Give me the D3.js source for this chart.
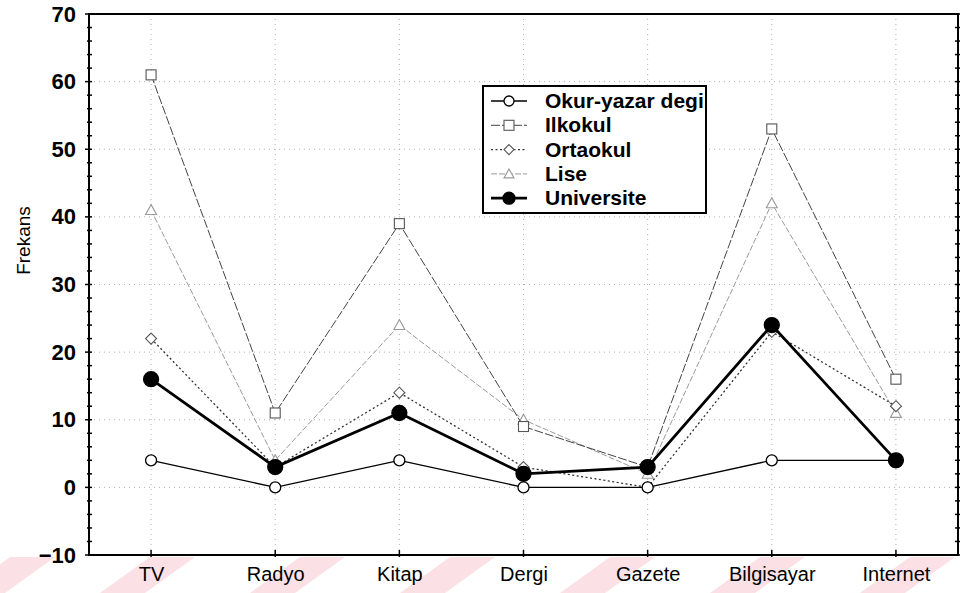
<!DOCTYPE html>
<html><head><meta charset="utf-8">
<script src="https://cdn.jsdelivr.net/npm/d3@7"></script>
<style>html,body{margin:0;padding:0;background:#fff;}svg{display:block;}</style>
</head><body>
<svg id="chart" width="961" height="593"></svg>
<script>
const categories = ["TV","Radyo","Kitap","Dergi","Gazete","Bilgisayar","Internet"];
const seriesNames = ["Okur-yazar degil","Ilkokul","Ortaokul","Lise","Universite"];
const okurYazar  = [4, 0, 4, 0, 0, 4, 4];
const ilkokul    = [61, 11, 39, 9, 3, 53, 16];
const ortaokul   = [22, 3, 14, 3, 0, 23, 12];
const lise       = [41, 4, 24, 10, 2, 42, 11];
const universite = [16, 3, 11, 2, 3, 24, 4];
const yTicks = [-10, 0, 10, 20, 30, 40, 50, 60, 70];
const yLabel = "Frekans";

const svg = d3.select("#chart");
const L = 89, R = 958, T = 14, B = 555;
const x = d3.scalePoint().domain(categories).range([L, R]).padding(0.5);
const y = d3.scaleLinear().domain([-10, 70]).range([B, T]);

// watermark stripes
const wm = svg.append("g").attr("fill", "#fbe1e5");
[-40, 100, 250, 400, 560, 710, 860].forEach(s => {
  wm.append("path").attr("d", `M${s},593 L${s+45},593 L${s+95},557 L${s+50},557 Z`);
});

// grid
const grid = svg.append("g").attr("stroke", "#b0b0b0").attr("stroke-width", 1).attr("stroke-dasharray", "1,4");
yTicks.filter(v => v > -10 && v < 70).forEach(v => {
  grid.append("line").attr("x1", L).attr("x2", R).attr("y1", y(v)).attr("y2", y(v));
});
categories.forEach(c => {
  grid.append("line").attr("x1", x(c)).attr("x2", x(c)).attr("y1", T).attr("y2", B);
});

// axes ticks
const ax = svg.append("g").attr("stroke", "#000");
d3.range(-10, 70.01, 2).forEach(v => {
  const major = v % 10 === 0;
  ax.append("line").attr("x1", L - (major ? 4 : 2)).attr("x2", L + 3).attr("y1", y(v)).attr("y2", y(v)).attr("stroke-width", 1.5);
  ax.append("line").attr("x1", R - 3).attr("x2", R + 2).attr("y1", y(v)).attr("y2", y(v)).attr("stroke-width", 1.5);
});
categories.forEach(c => {
  ax.append("line").attr("x1", x(c)).attr("x2", x(c)).attr("y1", B - 5).attr("y2", B + 2).attr("stroke-width", 1.5);
});
svg.append("rect").attr("x", L).attr("y", T).attr("width", R - L).attr("height", B - T)
  .attr("fill", "none").attr("stroke", "#000").attr("stroke-width", 2);

const yAxis = d3.axisLeft(y).tickValues(yTicks).tickSize(0).tickPadding(13);
const yg = svg.append("g").attr("transform", `translate(${L},0)`).call(yAxis);
yg.select(".domain").remove();
yg.attr("font-size", 22);
yg.selectAll("text").attr("font-family", "Liberation Sans, Arial, sans-serif").attr("font-size", 22).attr("font-weight", "bold").attr("fill", "#000");

const xAxis = d3.axisBottom(x).tickSize(0).tickPadding(12);
const xg = svg.append("g").attr("transform", `translate(0,${B})`).call(xAxis);
xg.select(".domain").remove();
xg.attr("font-size", 20);
xg.selectAll("text").attr("font-family", "Liberation Sans Narrow, Liberation Sans, Arial, sans-serif").attr("font-size", 20).attr("fill", "#000");

svg.append("text").attr("transform", `translate(30,${y(36.5)}) rotate(-90)`)
  .attr("text-anchor", "middle").attr("font-family", "Liberation Sans, Arial, sans-serif")
  .attr("font-size", 19).text(yLabel);

// series
const styles = [
  {data: okurYazar,  stroke: "#000", w: 1.3, dash: null,  marker: "circle",  mstroke: "#000", fill: "#fff", size: 5.5},
  {data: ilkokul,    stroke: "#444", w: 1.0, dash: "9,2", marker: "square",  mstroke: "#555", fill: "#fff", size: 5},
  {data: ortaokul,   stroke: "#333", w: 1.3, dash: "2,2.5", marker: "diamond", mstroke: "#555", fill: "#fff", size: 5.5},
  {data: lise,       stroke: "#9a9a9a", w: 1.0, dash: "6,2", marker: "triangle", mstroke: "#999", fill: "#fff", size: 5.5},
  {data: universite, stroke: "#000", w: 2.8, dash: null,  marker: "dot",     mstroke: "#000", fill: "#000", size: 7.5}
];
const drawOrder = [3, 1, 2, 0, 4];
const line = d3.line().x((d, i) => x(categories[i])).y(d => y(d));

function drawMarker(g, type, cx, cy, s, st) {
  if (type === "circle" || type === "dot") {
    g.append("circle").attr("cx", cx).attr("cy", cy).attr("r", s).attr("fill", st.fill).attr("stroke", st.mstroke).attr("stroke-width", 1.3);
  } else if (type === "square") {
    g.append("rect").attr("x", cx - s).attr("y", cy - s).attr("width", 2 * s).attr("height", 2 * s).attr("fill", st.fill).attr("stroke", st.mstroke).attr("stroke-width", 1.1);
  } else if (type === "diamond") {
    g.append("path").attr("d", `M${cx},${cy - s} L${cx + s},${cy} L${cx},${cy + s} L${cx - s},${cy} Z`).attr("fill", st.fill).attr("stroke", st.mstroke).attr("stroke-width", 1.1);
  } else if (type === "triangle") {
    g.append("path").attr("d", `M${cx},${cy - s} L${cx + s},${cy + s * 0.8} L${cx - s},${cy + s * 0.8} Z`).attr("fill", st.fill).attr("stroke", st.mstroke).attr("stroke-width", 1.1);
  }
}

drawOrder.forEach(k => {
  const st = styles[k];
  const g = svg.append("g");
  g.append("path").datum(st.data).attr("d", line).attr("fill", "none")
    .attr("stroke", st.stroke).attr("stroke-width", st.w).attr("stroke-dasharray", st.dash);
  st.data.forEach((v, i) => drawMarker(g, st.marker, x(categories[i]), y(v), st.size, st));
});

// legend
const lx = 483, ly = 86, lw = 223, lh = 127;
svg.append("clipPath").attr("id", "legclip").append("rect").attr("x", lx).attr("y", ly).attr("width", lw - 1).attr("height", lh);
const lg = svg.append("g");
lg.append("rect").attr("x", lx).attr("y", ly).attr("width", lw).attr("height", lh).attr("fill", "#fff").attr("stroke", "#000").attr("stroke-width", 2);
const lgi = lg.append("g").attr("clip-path", "url(#legclip)");
seriesNames.forEach((name, i) => {
  const st = styles[i];
  const cy = ly + 15 + i * 24.3;
  lgi.append("line").attr("x1", lx + 8).attr("x2", lx + 44).attr("y1", cy).attr("y2", cy)
    .attr("stroke", st.stroke).attr("stroke-width", st.w).attr("stroke-dasharray", st.dash);
  drawMarker(lgi, st.marker, lx + 26, cy, i === 4 ? 6 : 5, st);
  lgi.append("text").attr("x", lx + 62).attr("y", cy + 7).attr("font-family", "Liberation Sans, Arial, sans-serif")
    .attr("font-size", 21).attr("font-weight", "bold").attr("fill", "#000").text(name);
});
</script>
</body></html>
